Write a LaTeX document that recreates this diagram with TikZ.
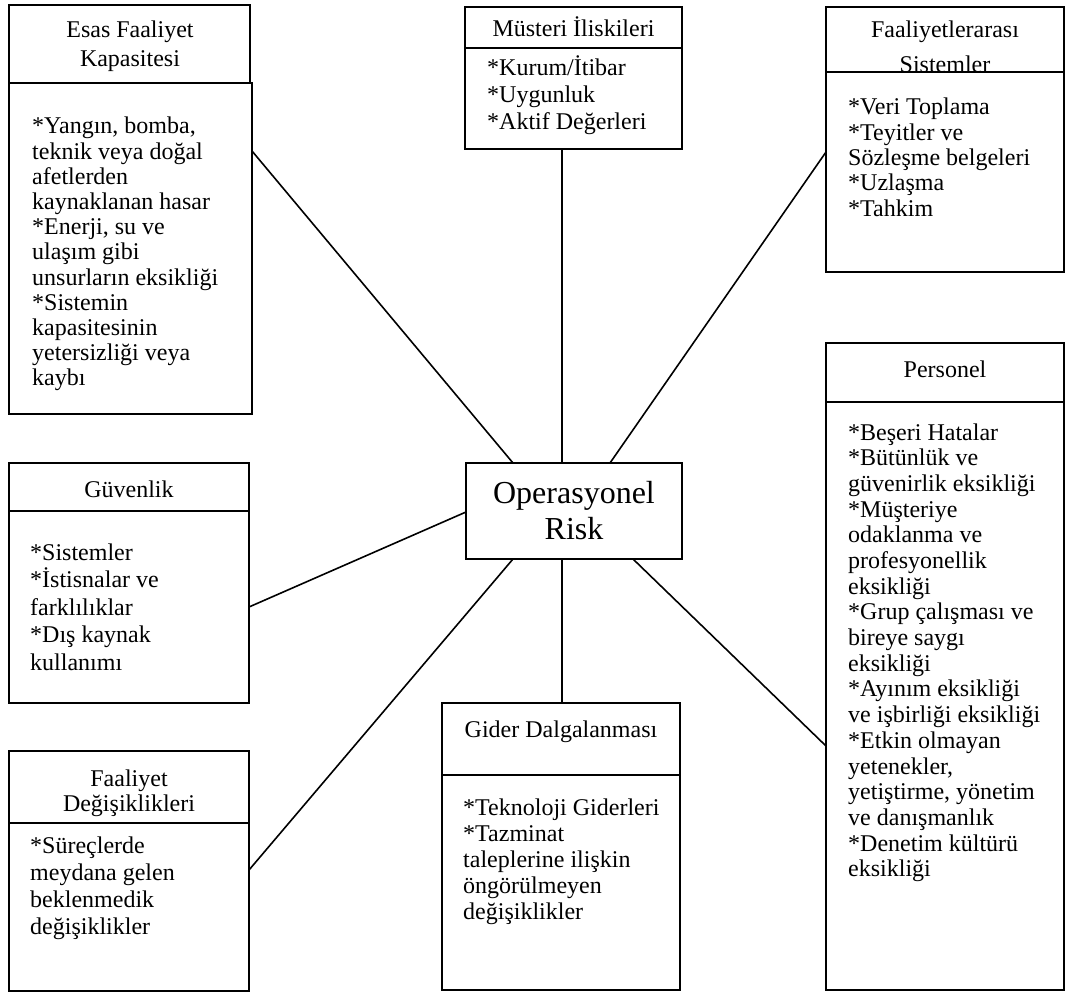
\documentclass[tikz,border=0pt]{standalone}
\usepackage{fontspec}
\setmainfont{Liberation Serif}
\usetikzlibrary{calc}
\begin{document}
\begin{tikzpicture}[x=1pt,y=-1pt,
  box/.style={draw, line width=1.8pt, fill=white, rectangle, inner sep=0pt, outer sep=0pt, anchor=north west},
  link/.style={line width=1.6pt},
  bodytext/.style={anchor=base west, inner sep=0pt, font=\fontsize{24}{#1}\selectfont},
  bodytext/.default=26,
  headtext/.style={anchor=base, inner sep=0pt, font=\fontsize{24}{#1}\selectfont},
  headtext/.default=28]
\useasboundingbox (0,0) rectangle (1069,992);

% Esas Faaliyet Kapasitesi
\node[box, minimum width=243pt, minimum height=331pt] (esasB) at (9,83) {};
\node[box, minimum width=241pt, minimum height=78pt] (esasH) at (9,5) {};
\node[headtext=29] (esasT) at (130,38) {\parbox[t]{230pt}{\centering Esas Faaliyet\\Kapasitesi}};
\node[bodytext=25.2] (esasL) at (32,134) {\parbox[t]{215pt}{\raggedright
*Yangın, bomba,\\teknik veya doğal\\afetlerden\\kaynaklanan hasar\\{*}Enerji, su ve\\ulaşım gibi\\unsurların eksikliği\\{*}Sistemin\\kapasitesinin\\yetersizliği veya\\kaybı}};

% Musteri Iliskileri
\node[box, minimum width=217pt, minimum height=101pt] (musB) at (465,48) {};
\node[box, minimum width=217pt, minimum height=41pt] (musH) at (465,7) {};
\node[headtext] (musT) at (573.5,37) {\parbox[t]{215pt}{\centering Müsteri İliskileri}};
\node[bodytext=27] (musL) at (487,76) {\parbox[t]{190pt}{\raggedright
*Kurum/İtibar\\{*}Uygunluk\\{*}Aktif Değerleri}};

% Faaliyetlerarasi Sistemler
\node[box, minimum width=238pt, minimum height=65pt] (faalH) at (826,7) {};
\node[headtext=35] (faalT) at (945,38) {\parbox[t]{236pt}{\centering Faaliyetlerarası\\Sistemler}};
\node[box, minimum width=238pt, minimum height=200pt] (faalB) at (826,72) {};
\node[bodytext=25.3] (faalL) at (848,115) {\parbox[t]{210pt}{\raggedright
*Veri Toplama\\{*}Teyitler ve\\Sözleşme belgeleri\\{*}Uzlaşma\\{*}Tahkim}};

% Personel
\node[box, minimum width=238pt, minimum height=588pt] (persB) at (826,402) {};
\node[box, minimum width=238pt, minimum height=59pt] (persH) at (826,343) {};
\node[headtext] (persT) at (945,378) {\parbox[t]{236pt}{\centering Personel}};
\node[bodytext=25.7] (persL) at (848,440) {\parbox[t]{214pt}{\raggedright
*Beşeri Hatalar\\{*}Bütünlük ve\\güvenirlik eksikliği\\{*}Müşteriye\\odaklanma ve\\profesyonellik\\eksikliği\\{*}Grup çalışması ve\\bireye saygı\\eksikliği\\{*}Ayınım eksikliği\\ve işbirliği eksikliği\\{*}Etkin olmayan\\yetenekler,\\yetiştirme, yönetim\\ve danışmanlık\\{*}Denetim kültürü\\eksikliği}};

% Guvenlik
\node[box, minimum width=240pt, minimum height=192pt] (guvB) at (9,511) {};
\node[box, minimum width=240pt, minimum height=48pt] (guvH) at (9,463) {};
\node[headtext] (guvT) at (129,497) {\parbox[t]{236pt}{\centering Güvenlik}};
\node[bodytext=27.5] (guvL) at (30,560) {\parbox[t]{214pt}{\raggedright
*Sistemler\\{*}İstisnalar ve\\farklılıklar\\{*}Dış kaynak\\kullanımı}};

% Faaliyet Degisiklikleri
\node[box, minimum width=240pt, minimum height=168pt] (degB) at (9,823) {};
\node[box, minimum width=240pt, minimum height=72pt] (degH) at (9,751) {};
\node[headtext=25] (degT) at (129,786) {\parbox[t]{236pt}{\centering Faaliyet\\Değişiklikleri}};
\node[bodytext=27.3] (degL) at (30,853) {\parbox[t]{214pt}{\raggedright
*Süreçlerde\\meydana gelen\\beklenmedik\\değişiklikler}};

% Gider Dalgalanmasi
\node[box, minimum width=238pt, minimum height=215pt] (giderB) at (442,775) {};
\node[box, minimum width=238pt, minimum height=72pt] (giderH) at (442,703) {};
\node[headtext] (giderT) at (561,737) {\parbox[t]{236pt}{\centering Gider Dalgalanması}};
\node[bodytext=26] (giderL) at (463,815) {\parbox[t]{214pt}{\raggedright
*Teknoloji Giderleri\\{*}Tazminat\\taleplerine ilişkin\\öngörülmeyen\\değişiklikler}};

% Operasyonel Risk
\node[box, minimum width=216pt, minimum height=96pt] (center) at (466,463) {};
\node[anchor=base, inner sep=0pt, font=\fontsize{32}{36}\selectfont] (centerT) at (574,503) {\parbox[t]{214pt}{\centering Operasyonel\\Risk}};

% connectors
\draw[link] ($(esasB.north east)+(0,68)$) -- ($(center.north west)+(47,0)$);
\draw[link] ($(musB.south west)+(97,0)$) -- ($(center.north west)+(96,0)$);
\draw[link] ($(faalB.north west)+(0,80)$) -- ($(center.north west)+(144,0)$);
\draw[link] ($(guvB.north east)+(0,96)$) -- ($(center.north west)+(0,49)$);
\draw[link] ($(degB.north east)+(0,47)$) -- ($(center.south west)+(47,0)$);
\draw[link] ($(center.south west)+(96,0)$) -- ($(giderH.north west)+(120,0)$);
\draw[link] ($(center.south west)+(167,0)$) -- ($(persB.north west)+(0,344)$);
\end{tikzpicture}
\end{document}
